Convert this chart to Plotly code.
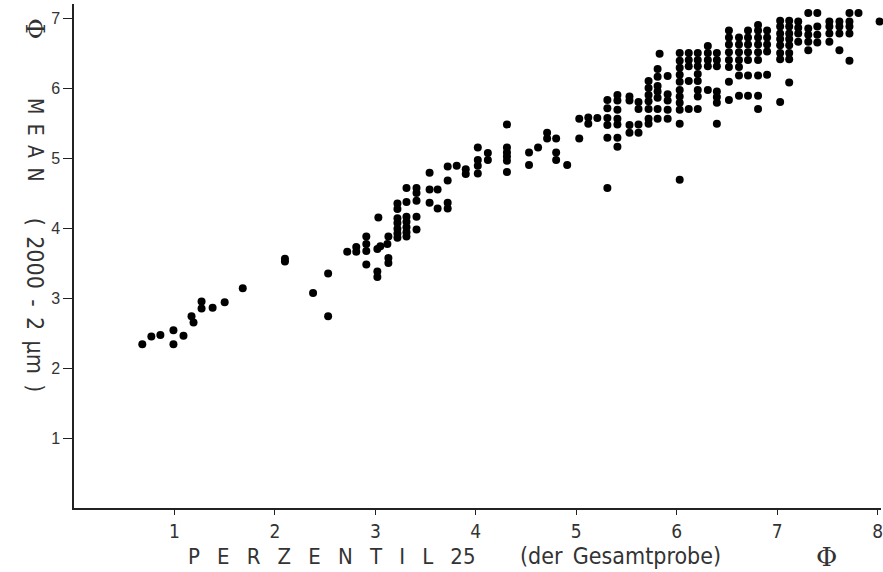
import plotly.graph_objects as go

# Percentile 25 of the whole sample (phi units), one entry per sample
perzentil_25 = [
    0.68, 0.77, 0.86, 0.99, 0.99, 1.09, 1.17, 1.19, 1.27, 1.27, 1.38, 1.50, 1.68,
    2.10, 2.10, 2.38, 2.53, 2.53,
    2.72, 2.81, 2.81, 2.91, 2.91, 2.91, 2.91, 3.02, 3.03, 3.02, 3.02, 3.05,
    3.12, 3.13, 3.13, 3.13,
    3.22, 3.22, 3.22, 3.22, 3.22, 3.22, 3.22,
    3.31, 3.31, 3.31, 3.31, 3.31, 3.31, 3.31,
    3.41, 3.41, 3.41, 3.41, 3.41,
    3.54, 3.54, 3.54, 3.62, 3.62,
    3.72, 3.72, 3.72, 3.72, 3.81, 3.90, 3.90,
    4.02, 4.02, 4.02, 4.02, 4.12, 4.12,
    4.31, 4.31, 4.31, 4.31, 4.31, 4.31,
    4.53, 4.53, 4.62, 4.71, 4.71, 4.80, 4.80, 4.80, 4.91,
    5.03, 5.03, 5.12, 5.12, 5.21,
    5.31, 5.31, 5.31, 5.31, 5.31, 5.31,
    5.41, 5.41, 5.41, 5.41, 5.41, 5.41, 5.41,
    5.53, 5.53, 5.53, 5.53,
    5.62, 5.62, 5.62, 5.62,
    5.72, 5.72, 5.72, 5.72, 5.72, 5.72, 5.72,
    5.81, 5.81, 5.81, 5.81, 5.81, 5.81, 5.81, 5.83,
    5.91, 5.91, 5.91, 5.91, 5.91,
    6.03, 6.03, 6.03, 6.03, 6.03, 6.03, 6.03, 6.03, 6.03, 6.03, 6.03,
    6.12, 6.12, 6.12, 6.12, 6.12,
    6.21, 6.21, 6.21, 6.21, 6.21, 6.21, 6.21, 6.21,
    6.31, 6.31, 6.31, 6.31, 6.31,
    6.40, 6.40, 6.40, 6.40, 6.40, 6.40, 6.40,
    6.52, 6.52, 6.52, 6.52, 6.52, 6.52, 6.52, 6.52,
    6.62, 6.62, 6.62, 6.62, 6.62, 6.62, 6.62,
    6.71, 6.71, 6.71, 6.71, 6.71, 6.71, 6.71,
    6.81, 6.81, 6.81, 6.81, 6.81, 6.81, 6.81, 6.81, 6.81,
    6.90, 6.90, 6.90, 6.90, 6.90,
    7.03, 7.03, 7.03, 7.03, 7.03, 7.03, 7.03, 7.03,
    7.12, 7.12, 7.12, 7.12, 7.12, 7.12, 7.12, 7.12,
    7.21, 7.21, 7.21, 7.21,
    7.31, 7.31, 7.31, 7.31, 7.31,
    7.40, 7.40, 7.40, 7.40,
    7.52, 7.52, 7.52, 7.52,
    7.62, 7.62, 7.62, 7.62,
    7.72, 7.72, 7.72, 7.72, 7.72,
    7.81, 8.02,
]

# Mean grain size of the 2000-2 um fraction (phi units), same order as above
mean_phi = [
    2.34, 2.45, 2.47, 2.54, 2.34, 2.46, 2.74, 2.65, 2.95, 2.85, 2.86, 2.94, 3.14,
    3.52, 3.56, 3.07, 3.35, 2.74,
    3.66, 3.73, 3.66, 3.88, 3.77, 3.67, 3.48, 3.70, 4.15, 3.38, 3.30, 3.74,
    3.77, 3.88, 3.57, 3.50,
    4.35, 4.27, 4.14, 4.07, 3.99, 3.92, 3.86,
    4.57, 4.37, 4.16, 4.09, 4.01, 3.94, 3.88,
    4.57, 4.50, 4.39, 4.16, 3.98,
    4.79, 4.55, 4.36, 4.55, 4.28,
    4.88, 4.68, 4.36, 4.28, 4.89, 4.84, 4.77,
    5.15, 4.97, 4.89, 4.78, 5.07, 4.97,
    5.48, 5.15, 5.08, 5.02, 4.96, 4.80,
    5.08, 4.90, 5.15, 5.36, 5.28, 5.28, 5.08, 4.97, 4.90,
    5.56, 5.28, 5.58, 5.49, 5.57,
    5.83, 5.71, 5.57, 5.47, 5.29, 4.57,
    5.90, 5.82, 5.69, 5.56, 5.48, 5.29, 5.16,
    5.88, 5.82, 5.47, 5.36,
    5.80, 5.70, 5.48, 5.36,
    6.10, 6.00, 5.90, 5.81, 5.70, 5.56, 5.49,
    6.27, 6.16, 6.03, 5.95, 5.86, 5.70, 5.56, 6.49,
    6.17, 5.91, 5.82, 5.69, 5.56,
    6.50, 6.39, 6.29, 6.19, 6.09, 5.97, 5.88, 5.79, 5.69, 5.49, 4.69,
    6.50, 6.40, 6.31, 6.10, 5.70,
    6.50, 6.40, 6.31, 6.20, 6.10, 5.97, 5.88, 5.70,
    6.60, 6.50, 6.40, 6.31, 5.97,
    6.50, 6.40, 6.31, 5.95, 5.87, 5.79, 5.49,
    6.82, 6.72, 6.62, 6.51, 6.40, 6.30, 6.09, 5.83,
    6.72, 6.62, 6.51, 6.40, 6.30, 6.18, 5.89,
    6.82, 6.72, 6.62, 6.51, 6.40, 6.18, 5.89,
    6.90, 6.82, 6.72, 6.62, 6.51, 6.40, 6.18, 5.89, 5.70,
    6.82, 6.72, 6.62, 6.52, 6.19,
    6.96, 6.88, 6.78, 6.70, 6.61, 6.50, 6.41, 5.80,
    6.96, 6.88, 6.78, 6.70, 6.61, 6.50, 6.41, 6.08,
    6.95, 6.86, 6.78, 6.66,
    7.07, 6.85, 6.76, 6.66, 6.54,
    7.07, 6.88, 6.76, 6.65,
    6.95, 6.88, 6.78, 6.66,
    6.95, 6.88, 6.78, 6.54,
    7.07, 6.95, 6.88, 6.78, 6.39,
    7.07, 6.95,
]

x_ticks = [1, 2, 3, 4, 5, 6, 7, 8]
y_ticks = [1, 2, 3, 4, 5, 6, 7]

PLOT_FONT = "DejaVu Sans Condensed, Liberation Sans Narrow, Liberation Sans, sans-serif"
TEXT_COLOR = "#333333"
EN = "\u2002"
WIDE_GAP = "\u2002\u2006\u2009"

fig = go.Figure()
fig.add_trace(go.Scatter(
    x=perzentil_25,
    y=mean_phi,
    mode="markers",
    marker=dict(size=8, color="black", line=dict(width=0)),
    cliponaxis=False,
    hoverinfo="x+y",
    showlegend=False,
))

fig.update_layout(
    width=883,
    height=572,
    margin=dict(l=74, r=0, t=4, b=64),
    paper_bgcolor="white",
    plot_bgcolor="white",
    showlegend=False,
)

fig.update_xaxes(
    range=[0, 8.034],
    tickvals=x_ticks,
    ticktext=[str(v) for v in x_ticks],
    ticks="outside",
    ticklen=5,
    tickwidth=1,
    tickcolor="#222222",
    ticklabeloverflow="allow",
    showline=True,
    linecolor="#222222",
    linewidth=1.5,
    showgrid=False,
    zeroline=False,
    tickfont=dict(family=PLOT_FONT, size=19, color=TEXT_COLOR),
)

fig.update_yaxes(
    range=[0, 7.2],
    tickvals=y_ticks,
    ticktext=[str(v) for v in y_ticks],
    ticks="outside",
    ticklen=9,
    tickwidth=1,
    tickcolor="#222222",
    showline=True,
    linecolor="#222222",
    linewidth=1.5,
    showgrid=False,
    zeroline=False,
    tickfont=dict(family="Liberation Sans, Arial, sans-serif", size=16, color=TEXT_COLOR),
)

# Axis titles written as free text, in the widely spaced plotter lettering
x_title_y = -0.096
fig.add_annotation(
    text=WIDE_GAP.join("PERZENTIL") + WIDE_GAP + "25",
    xref="paper", yref="paper", x=(186 - 74) / 809, y=x_title_y,
    xanchor="left", yanchor="middle",
    showarrow=False, font=dict(family=PLOT_FONT, size=22, color=TEXT_COLOR),
)
fig.add_annotation(
    text="(der" + EN + "Gesamtprobe)",
    xref="paper", yref="paper", x=(622 - 74) / 809, y=x_title_y,
    xanchor="center", yanchor="middle",
    showarrow=False, font=dict(family=PLOT_FONT, size=23, color=TEXT_COLOR),
)
fig.add_annotation(
    text="\u03a6",
    xref="paper", yref="paper", x=(828 - 74) / 809, y=-0.097,
    xanchor="center", yanchor="middle",
    showarrow=False, font=dict(family="DejaVu Serif, serif", size=26, color=TEXT_COLOR),
)

y_title_x = (35 - 74) / 809
fig.add_annotation(
    text=EN.join("MEAN"),
    xref="paper", yref="paper", x=y_title_x, y=0.730,
    xanchor="center", yanchor="middle", textangle=90,
    showarrow=False, font=dict(family=PLOT_FONT, size=21, color=TEXT_COLOR),
)
fig.add_annotation(
    text="(" + EN + "2000" + EN + "-" + EN + "2" + EN + "\u00b5m" + EN + ")",
    xref="paper", yref="paper", x=y_title_x, y=0.403,
    xanchor="center", yanchor="middle", textangle=90,
    showarrow=False, font=dict(family=PLOT_FONT, size=23, color=TEXT_COLOR),
)
fig.add_annotation(
    text="\u03a6",
    xref="paper", yref="paper", x=y_title_x, y=0.952,
    xanchor="center", yanchor="middle", textangle=90,
    showarrow=False, font=dict(family="DejaVu Serif, serif", size=26, color=TEXT_COLOR),
)

fig.write_html("out.html")
